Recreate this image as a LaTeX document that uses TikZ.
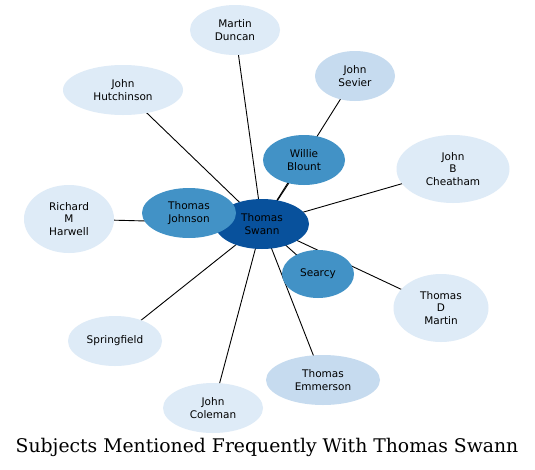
\documentclass[tikz,border=0pt]{standalone}
\usepackage{fontspec}
\setsansfont{DejaVu Sans}
\newfontfamily\titlefont{DejaVu Serif}
\usetikzlibrary{shapes.geometric}
\pgfdeclarelayer{bg}
\pgfdeclarelayer{edges}
\pgfsetlayers{bg,edges,main}
\definecolor{cdark}{HTML}{08519C}
\definecolor{cmid}{HTML}{4292C6}
\definecolor{clight}{HTML}{C6DBEF}
\definecolor{cpale}{HTML}{DEEBF7}
\tikzset{
  ent/.style={ellipse, inner sep=0pt, align=center, font=\sffamily\fontsize{10.5}{12.7}\selectfont, text=black},
  edge/.style={draw=black, line width=0.9pt},
}
\begin{document}
\begin{tikzpicture}[x=1pt,y=-1pt]
\useasboundingbox (0,0) rectangle (535,469);
\begin{pgfonlayer}{bg}
\fill[white] (0,0) rectangle (535,469);
\end{pgfonlayer}
% outer nodes
\node[ent, fill=cpale, minimum width=90pt, minimum height=50pt] (duncan) at (235,30) {Martin\\Duncan};
\node[ent, fill=clight, minimum width=80pt, minimum height=50pt] (sevier) at (355,76) {John\\Sevier};
\node[ent, fill=cpale, minimum width=120pt, minimum height=50pt] (hutch) at (123,90) {John\\Hutchinson};
\node[ent, fill=cpale, minimum width=113pt, minimum height=68pt] (cheat) at (453,169) {John\\B\\Cheatham};
\node[ent, fill=cpale, minimum width=90pt, minimum height=68pt] (harwell) at (69,219) {Richard\\M\\Harwell};
\node[ent, fill=cpale, minimum width=95pt, minimum height=68pt] (tdm) at (441,308) {Thomas\\D\\Martin};
\node[ent, fill=cpale, minimum width=94pt, minimum height=50pt] (spring) at (115,341) {Springfield};
\node[ent, fill=clight, minimum width=114pt, minimum height=50pt] (emm) at (323,380) {Thomas\\Emmerson};
\node[ent, fill=cpale, minimum width=100pt, minimum height=50pt] (cole) at (213,408) {John\\Coleman};
% central and mid nodes
\node[ent, fill=cdark, minimum width=94pt, minimum height=50pt] (swann) at (262,224) {Thomas\\Swann};
\node[ent, fill=cmid, minimum width=82pt, minimum height=50pt] (blount) at (304,160) {Willie\\Blount};
\node[ent, fill=cmid, minimum width=94pt, minimum height=50pt] (johnson) at (189,213) {Thomas\\Johnson};
\node[ent, fill=cmid, minimum width=72pt, minimum height=48pt] (searcy) at (318,274) {Searcy};
% edges beneath nodes
\begin{pgfonlayer}{edges}
\foreach \n in {duncan,sevier,hutch,cheat,harwell,tdm,spring,emm,cole,blount,johnson,searcy}{
  \draw[edge] (swann.center) -- (\n.center);
}
\end{pgfonlayer}
% title
\node[font=\titlefont\fontsize{18.8}{22}\selectfont, anchor=center] (title) at (267,447) {Subjects Mentioned Frequently With Thomas Swann};
\end{tikzpicture}
\end{document}
